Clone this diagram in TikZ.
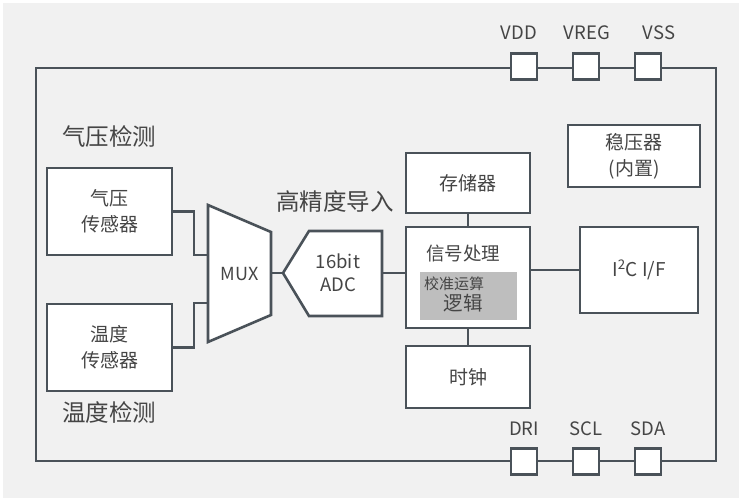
\documentclass[tikz,border=0pt]{standalone}
\usepackage{fontspec}
\setmainfont{Noto Sans CJK SC}
\usetikzlibrary{positioning}
\definecolor{chipgrey}{HTML}{F1F1F1}
\definecolor{lineslate}{HTML}{4A5259}
\definecolor{textgrey}{HTML}{454545}
\definecolor{logicgrey}{HTML}{BEBEBE}
\tikzset{
    block/.style={
        draw=lineslate,
        line width=2.6pt,
        fill=white,
        text=textgrey,
        align=center,
        font=\fontsize{19}{26}\selectfont,
        inner sep=0pt
    },
    pin/.style={
        draw=lineslate,
        line width=2.6pt,
        fill=white,
        minimum width=26pt,
        minimum height=26pt,
        inner sep=0pt
    },
    pinlabel/.style={
        text=textgrey,
        font=\fontsize{18.5}{20}\selectfont,
        inner sep=0pt
    },
    biglabel/.style={
        text=textgrey,
        font=\fontsize{23.5}{26}\selectfont,
        inner sep=0pt
    },
    wire/.style={draw=lineslate, line width=2.2pt}
}

\begin{document}
\begin{tikzpicture}[x=1pt,y=-1pt]

\useasboundingbox (0,0) rectangle (742,501);
\fill[white] (0,0) rectangle (742,501);
\fill[chipgrey] (3,3) rectangle (739,498);

% CHIP OUTLINE
\node[draw=lineslate, line width=2pt, minimum width=680pt, minimum height=393pt,
      inner sep=0pt] (chip) at (376,264.5) {};

% PINS
\node[pin] (vdd) at (524,66.5) {};
\node[pin] (vreg) at (586,66.5) {};
\node[pin] (vss) at (648,66.5) {};
\node[pin] (dri) at (524,461.5) {};
\node[pin] (scl) at (586,461.5) {};
\node[pin] (sda) at (648,461.5) {};

\node[pinlabel] (vddl) at (519,33) {VDD};
\node[pinlabel] (vregl) at (587,33) {VREG};
\node[pinlabel] (vssl) at (659,33) {VSS};
\node[pinlabel] (dril) at (524,429) {DRI};
\node[pinlabel] (scll) at (586,429) {SCL};
\node[pinlabel] (sdal) at (648,429) {SDA};

% SENSORS
\node[biglabel] (presl) at (109,136) {气压检测};
\node[biglabel] (templ) at (109,412) {温度检测};

\node[block, minimum width=125pt, minimum height=87pt] (pres) at (109.5,211.5)
{气压\\传感器};
\node[block, minimum width=125pt, minimum height=87pt] (temp) at (109.5,347.5)
{温度\\传感器};

% MUX
\coordinate (muxin1) at (208,255);
\coordinate (muxin2) at (208,303);
\coordinate (muxout) at (271,273);
\draw[draw=lineslate, line width=2.6pt, fill=white, line join=miter]
    (208,205) -- (271,232) -- (271,315) -- (208,342) -- cycle;
\node[text=textgrey, font=\fontsize{18}{22}\selectfont] (mux) at (239.5,274) {MUX};

\draw[wire] (pres.east) -- ++(21,0) |- (muxin1);
\draw[wire] (temp.east) -- ++(21,0) |- (muxin2);

% ADC
\coordinate (adcin) at (283,273);
\coordinate (adcout) at (382,273);
\draw[draw=lineslate, line width=2.6pt, fill=white, line join=miter]
    (adcin) -- (309,231) -- (382,231) -- (382,316) -- (309,316) -- cycle;
\node[text=textgrey, align=center, font=\fontsize{18.5}{23}\selectfont] (adc) at (338,273)
{16bit\\ADC};
\node[biglabel] (hsl) at (335,202) {高精度导入};

\draw[wire] (muxout) -- (adcin);

% SIGNAL PROCESSING
\node[block, minimum width=124pt, minimum height=101pt] (sig) at (468,277.5) {};
\node[text=textgrey, font=\fontsize{18.5}{20}\selectfont, inner sep=0pt] (sigl) at (463,253)
{信号处理};
\node[fill=logicgrey, minimum width=97pt, minimum height=48pt, inner sep=0pt]
    (logic) at (468.5,296) {};
\node[text=textgrey, font=\fontsize{15}{17}\selectfont, inner sep=0pt] (logic1) at (454,284)
{校准运算};
\node[text=textgrey, font=\fontsize{19.5}{20}\selectfont, inner sep=0pt] (logic2) at (463,303)
{逻辑};

\node[block, minimum width=124pt, minimum height=60pt] (mem) at (468,183) {存储器};
\node[block, minimum width=124pt, minimum height=62pt] (clk) at (468,377) {时钟};

\draw[wire] (adcout) -- (adcout -| sig.west);
\draw[wire] (mem) -- (sig);
\draw[wire] (sig) -- (clk);

% INTERFACE AND REGULATOR
\node[block, minimum width=118pt, minimum height=86pt] (i2c) at (639,270)
{I\textsuperscript{2}C I/F};
\node[block, minimum width=132pt, minimum height=62pt] (reg) at (634,156)
{稳压器\\(内置)};

\draw[wire] (i2c.west) -- (i2c.west -| sig.east);

\end{tikzpicture}
\end{document}
